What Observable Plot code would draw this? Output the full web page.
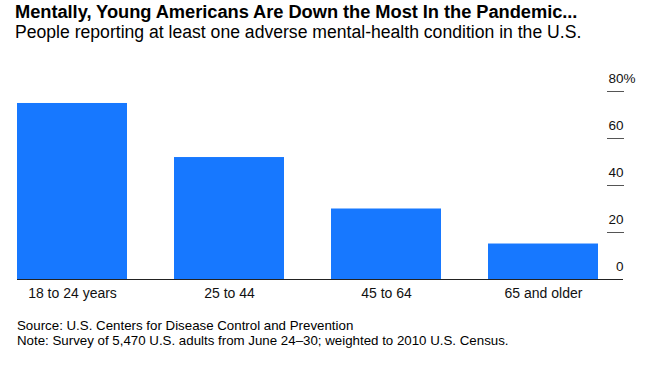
<!DOCTYPE html>
<html>
<head>
<meta charset="utf-8">
<script src="https://cdn.jsdelivr.net/npm/d3@7"></script>
<script src="https://cdn.jsdelivr.net/npm/@observablehq/plot@0.6"></script>
<style>
  html, body { margin: 0; padding: 0; background: #fff; }
  body { width: 650px; height: 365px; overflow: hidden; font-family: "Liberation Sans", Arial, sans-serif; color: #000; }
  .head { padding: 1px 0 0 15px; height: 48px; box-sizing: border-box; }
  .title { font-weight: bold; font-size: 18.3px; line-height: 21px; white-space: nowrap; letter-spacing: -0.05px; }
  .sub { font-size: 17.6px; line-height: 20px; white-space: nowrap; letter-spacing: 0px; }
  .foot { padding-left: 17px; font-size: 13.3px; line-height: 14.5px; margin-top: 9px; white-space: nowrap; }
  svg { display: block; }
</style>
</head>
<body>
<div class="head">
  <div class="title">Mentally, Young Americans Are Down the Most In the Pandemic...</div>
  <div class="sub">People reporting at least one adverse mental-health condition in the U.S.</div>
</div>
<div id="chart"></div>
<div class="foot">
  <div>Source: U.S. Centers for Disease Control and Prevention</div>
  <div>Note: Survey of 5,470 U.S. adults from June 24–30; weighted to 2010 U.S. Census.</div>
</div>
<script>
const categories = ["18 to 24 years", "25 to 44", "45 to 64", "65 and older"];
const values = [74.9, 51.9, 30.0, 15.1];
const yTicks = [0, 20, 40, 60, 80];
const yTickLabels = ["0", "20", "40", "60", "80"];

const data = categories.map((c, i) => ({category: c, value: values[i]}));
const tickData = yTicks.map((t, i) => ({value: t, label: yTickLabels[i]}));

const chart = Plot.plot({
  width: 650,
  height: 262,
  marginTop: 43,
  marginLeft: 17,
  marginRight: 52,
  marginBottom: 31,
  style: {fontFamily: "'Liberation Sans', Arial, sans-serif", fontSize: "14px", color: "#000", background: "#fff"},
  x: {domain: categories, paddingInner: 0.3, paddingOuter: 0, label: null},
  y: {domain: [0, 80], label: null},
  marks: [
    Plot.barY(data, {x: "category", y: "value", fill: "#1778ff"}),
    Plot.ruleY([0], {stroke: "#222", strokeWidth: 1, insetRight: -25}),
    Plot.axisX({tickSize: 0, tickPadding: 9, fontSize: 14, fill: "#111"}),
    Plot.axisY({anchor: "right", ticks: yTicks.slice(1), tickSize: 17, dx: 8, tickFormat: () => "", stroke: "#555"}),
    Plot.text(tickData, {y: "value", text: "label", frameAnchor: "right", dx: 25, dy: -9, lineAnchor: "bottom", textAnchor: "end", fontSize: 13.5, fill: "#111"}),
    Plot.text(tickData.filter(d => d.value === 80), {y: "value", text: () => "%", frameAnchor: "right", dx: 25, dy: -9, lineAnchor: "bottom", textAnchor: "start", fontSize: 13.5, fill: "#111"})
  ]
});
document.getElementById("chart").appendChild(chart);
</script>
</body>
</html>
